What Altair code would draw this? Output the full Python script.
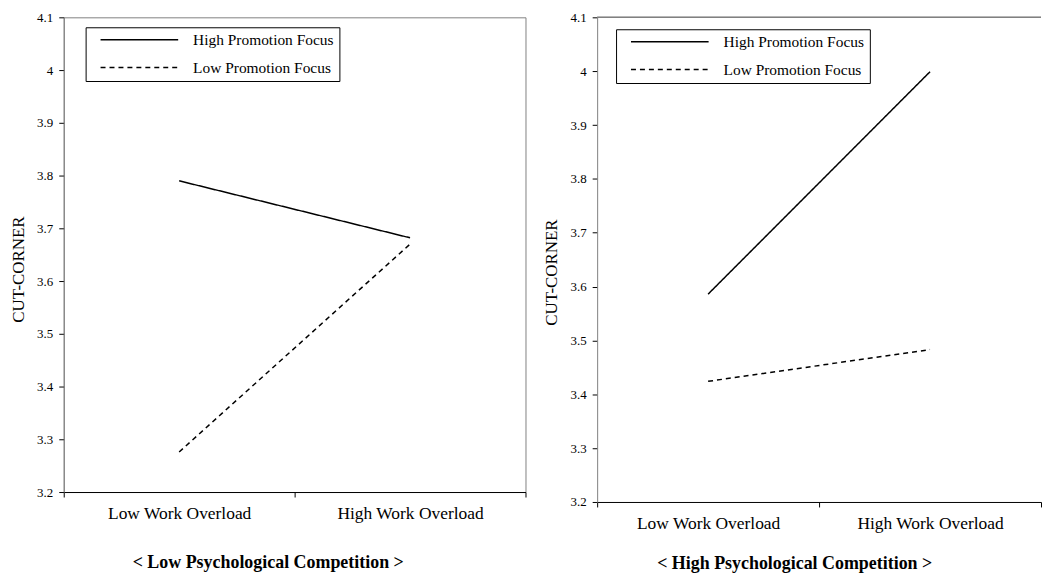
import altair as alt
import pandas as pd

categories = ["Low Work Overload", "High Work Overload"]
series = ["High Promotion Focus", "Low Promotion Focus"]
low_comp_high = [3.79, 3.682]
low_comp_low = [3.276, 3.670]
high_comp_high = [3.586, 3.999]
high_comp_low = [3.424, 3.483]
y_ticks = [3.2, 3.3, 3.4, 3.5, 3.6, 3.7, 3.8, 3.9, 4.0, 4.1]
titles = ["< Low Psychological Competition >", "< High Psychological Competition >"]

SERIF = "Liberation Serif"


def make_df(high, low):
    rows = []
    for c, v in zip(categories, high):
        rows.append({"workload": c, "value": v, "focus": series[0]})
    for c, v in zip(categories, low):
        rows.append({"workload": c, "value": v, "focus": series[1]})
    return pd.DataFrame(rows)


def panel(df, width, height, title, legend_x, legend_y, title_x, title_y, ytitle_x, ytitle_y, frame):
    line = alt.Chart(df).mark_line(strokeWidth=1.5, color="black").encode(
        x=alt.X(
            "workload:N",
            bandPosition=0.5,
            scale=alt.Scale(type="band", domain=categories, paddingInner=0, paddingOuter=0),
            axis=alt.Axis(
                title=title, tickBand="extent", labelAngle=0, domainColor="black",
                tickColor="black", tickSize=5, labelFont=SERIF, labelFontSize=17.5,
                labelColor="black", labelPadding=8, titleFont=SERIF, titleFontSize=18,
                titleFontWeight="bold", titleColor="black", titleX=title_x, titleY=title_y,
                titleBaseline="top",
            ),
        ),
        y=alt.Y(
            "value:Q",
            scale=alt.Scale(domain=[3.2, 4.1], nice=False, zero=False),
            axis=alt.Axis(
                title="CUT-CORNER", values=y_ticks, format=".1~f", grid=False,
                domainColor="#808080", tickColor="black", tickSize=5, labelFont=SERIF,
                labelFontSize=13, labelColor="black", labelPadding=6, titleFont=SERIF,
                titleFontSize=17, titleFontWeight="normal", titleColor="black",
                titleX=ytitle_x, titleY=ytitle_y,
            ),
        ),
        strokeDash=alt.StrokeDash(
            "focus:N",
            scale=alt.Scale(domain=series, range=[[1, 0], [5, 4]]),
            legend=alt.Legend(
                title=None, orient="none", legendX=legend_x, legendY=legend_y,
                strokeColor="black", padding=5, symbolType="stroke", symbolSize=6084,
                symbolStrokeWidth=1.5, symbolStrokeColor="black", clipHeight=15,
                rowPadding=12, symbolOffset=9, labelOffset=14, labelFont=SERIF,
                labelFontSize=15.5, labelColor="black", fillColor="white",
            ),
        ),
    )
    if frame:
        return alt.layer(line).properties(
            width=width, height=height, view=alt.ViewBackground(stroke="#808080")
        )
    top = alt.Chart(df).mark_rule(color="#808080", strokeWidth=1).encode(
        x=alt.value(0), x2=alt.value(width), y=alt.value(0)
    )
    return alt.layer(top, line).properties(
        width=width, height=height, view=alt.ViewBackground(stroke=None)
    )


left = panel(make_df(low_comp_high, low_comp_low), 464, 477, titles[0],
             22, 10, 205, 62, -36, 253, True)
right = panel(make_df(high_comp_high, high_comp_low), 446, 487, titles[1],
              19, 12, 198, 53, -37, 256, False)

chart = alt.hconcat(left, right, spacing=16).resolve_scale(
    strokeDash="independent", x="independent", y="independent"
).resolve_legend(strokeDash="independent").properties(
    padding={"left": 1, "top": 1, "right": 0, "bottom": 0}
).configure(background="white")

chart.save("out.html", embed_options={"renderer": "svg", "actions": False})
